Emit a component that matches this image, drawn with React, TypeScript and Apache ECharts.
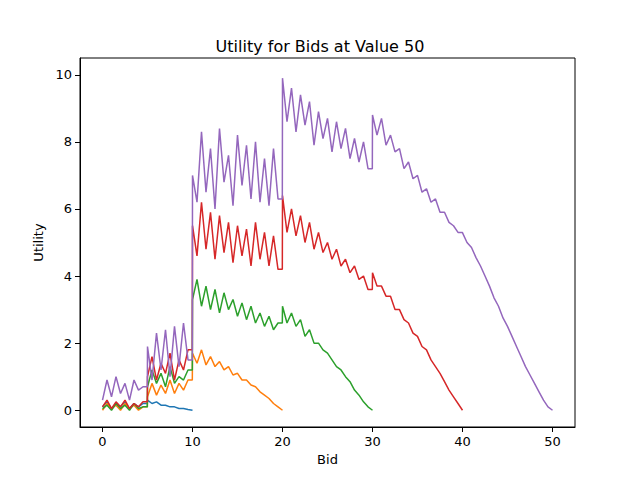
import React, { useEffect, useRef } from "react";
import * as echarts from "echarts";

const purple = [0.3,0.9,0.4,1.0,0.5,0.8,0.3,0.9,0.6,0.7,
1.9,0.9,2.3,1.2,2.4,1.0,2.5,1.3,2.6,1.5,
7.0,6.2,8.3,6.5,7.8,6.0,8.4,6.8,7.6,6.1,8.2,6.7,7.9,6.3,8.0,6.2,7.5,6.1,7.8,6.3,
9.9,8.6,9.6,8.3,9.4,8.5,9.2,7.9,8.9,8.1,8.7,7.7,8.6,7.8,8.4,7.5,8.1,7.4,8.0,7.2,
8.8,8.2,8.7,7.9,8.2,7.7,7.8,7.2,7.4,6.9,7.0,6.5,6.6,6.2,6.3,5.9,5.9,5.6,5.5,5.3,
5.3,5.0,4.85,4.55,4.3,4.0,3.7,3.35,3.1,2.75,2.5,2.2,1.9,1.6,1.3,1.05,0.8,0.55,0.3,0.1,0.0];
const red = [0.1,0.3,0.05,0.25,0.1,0.3,0.05,0.2,0.1,0.25,
1.0,1.6,0.9,1.4,1.1,1.7,0.9,1.5,1.2,1.8,
5.5,4.6,6.2,4.8,5.9,4.5,5.8,4.7,5.6,4.4,5.5,4.6,5.4,4.3,5.6,4.5,5.3,4.3,5.2,4.2,
6.4,5.3,6.0,5.2,5.8,5.0,5.6,4.8,5.3,4.7,5.0,4.5,4.8,4.3,4.5,4.1,4.3,3.9,4.0,3.6,
4.1,3.7,3.7,3.4,3.4,3.0,3.0,2.7,2.6,2.3,2.2,1.9,1.8,1.5,1.3,1.1,0.85,0.6,0.4,0.2,0.0];
const green = [0.05,0.15,0.0,0.2,0.05,0.15,0.0,0.2,0.05,0.1,
0.7,1.2,0.8,1.1,0.7,1.3,0.8,1.0,0.9,1.2,
3.3,3.9,3.1,3.7,3.0,3.6,2.9,3.5,3.0,3.3,2.8,3.2,2.7,3.1,2.6,2.9,2.5,2.8,2.4,2.6,
3.1,2.6,2.9,2.5,2.7,2.2,2.4,2.0,2.0,1.8,1.7,1.5,1.3,1.2,1.0,0.85,0.6,0.45,0.25,0.1,0.0];
const orange = [0.0,0.2,0.05,0.15,0.0,0.2,0.05,0.15,0.0,0.1,
0.4,0.8,0.45,0.75,0.5,0.9,0.5,0.8,0.6,0.9,
1.7,1.4,1.8,1.35,1.6,1.3,1.45,1.2,1.3,1.05,1.1,0.9,0.9,0.75,0.7,0.55,0.45,0.35,0.2,0.1,0.0];
const blue = [0.1,0.25,0.05,0.2,0.1,0.25,0.05,0.2,0.1,0.2,
0.3,0.2,0.25,0.15,0.15,0.1,0.1,0.05,0.05,0.02,0.0];

const xTicks = [0, 10, 20, 30, 40, 50];
const yTicks = [0, 2, 4, 6, 8, 10];
const STEP = 0.5;
const jumpIdx = [10, 20, 40, 60, 80];

const seriesList = [
  { name: "blue", color: "#1f77b4", values: blue },
  { name: "orange", color: "#ff7f0e", values: orange },
  { name: "green", color: "#2ca02c", values: green },
  { name: "red", color: "#d62728", values: red },
  { name: "purple", color: "#9467bd", values: purple },
];

function toPoints(values: number[]) {
  const pts: number[][] = [];
  values.forEach((v, i) => {
    if (jumpIdx.includes(i) && i < values.length - 1) pts.push([i * STEP - 0.02, values[i - 1]]);
    pts.push([i * STEP, v]);
  });
  return pts;
}

export default function App() {
  const ref = useRef<HTMLDivElement>(null);
  useEffect(() => {
    const chart = echarts.init(ref.current!, null, { renderer: "svg" });
    const font = "DejaVu Sans";
    const axisCommon = {
      axisLine: { show: true, onZero: false, lineStyle: { color: "#000" } },
      splitLine: { show: false },
    };
    chart.setOption({
      animation: false,
      textStyle: { fontFamily: font },
      title: { text: "Utility for Bids at Value 50", left: "center", top: 33, textStyle: { fontFamily: font, fontSize: 16, fontWeight: "normal", color: "#000" } },
      grid: { left: 80, right: 65, top: 58, bottom: 53, show: true, borderColor: "#000", borderWidth: 1, backgroundColor: "transparent" },
      xAxis: {
        ...axisCommon,
        type: "value", min: -2.5, max: 52.5,
        name: "Bid", nameLocation: "middle", nameGap: 25,
        nameTextStyle: { fontFamily: font, fontSize: 13, color: "#000" },
        axisTick: { show: true, customValues: xTicks, length: 5, lineStyle: { color: "#000" } },
        axisLabel: { customValues: xTicks, fontFamily: font, fontSize: 13, color: "#000" },
      },
      yAxis: {
        ...axisCommon,
        type: "value", min: -0.5, max: 10.5,
        name: "Utility", nameLocation: "middle", nameGap: 35,
        nameTextStyle: { fontFamily: font, fontSize: 13, color: "#000" },
        axisTick: { show: true, customValues: yTicks, length: 5, lineStyle: { color: "#000" } },
        axisLabel: { customValues: yTicks, fontFamily: font, fontSize: 13, color: "#000" },
      },
      series: seriesList.map((s) => ({
        type: "line", name: s.name, showSymbol: false,
        data: toPoints(s.values),
        lineStyle: { color: s.color, width: 1.5 },
        itemStyle: { color: s.color },
      })),
    });
    return () => chart.dispose();
  }, []);
  return <div ref={ref} style={{ position: "absolute", left: 0, top: 0, width: 640, height: 480 }} />;
}
